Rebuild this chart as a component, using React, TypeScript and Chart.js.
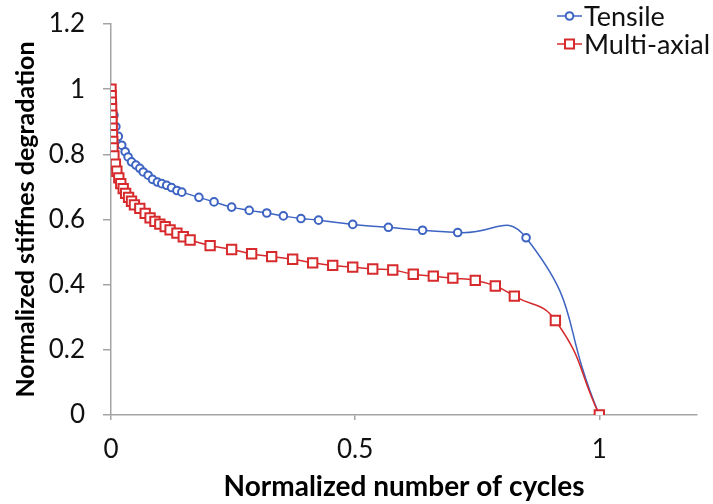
import React, { useEffect, useRef } from 'react';
import { Chart, registerables } from 'chart.js';

Chart.register(...registerables);

const seriesNames = ['Tensile', 'Multi-axial'];

const tensileX = [0, 0.003, 0.006, 0.01, 0.015, 0.022, 0.029, 0.035, 0.042, 0.051, 0.059, 0.066, 0.076, 0.085, 0.095, 0.104, 0.114, 0.124, 0.135, 0.145, 0.18, 0.211, 0.247, 0.283, 0.319, 0.353, 0.389, 0.425, 0.495, 0.568, 0.638, 0.71, 0.85, 1.0];
const tensileY = [1.0, 0.96, 0.92, 0.885, 0.855, 0.828, 0.808, 0.792, 0.777, 0.767, 0.757, 0.746, 0.736, 0.723, 0.715, 0.71, 0.705, 0.698, 0.689, 0.684, 0.668, 0.654, 0.638, 0.628, 0.62, 0.611, 0.603, 0.598, 0.585, 0.576, 0.567, 0.56, 0.544, 0.0];

const multiX = [0, 0.0004, 0.0008, 0.0012, 0.0016, 0.002, 0.0025, 0.003, 0.0035, 0.004, 0.006, 0.009, 0.012, 0.016, 0.02, 0.025, 0.03, 0.036, 0.042, 0.048, 0.059, 0.07, 0.08, 0.09, 0.1, 0.111, 0.121, 0.135, 0.148, 0.162, 0.203, 0.247, 0.288, 0.329, 0.372, 0.413, 0.454, 0.495, 0.536, 0.577, 0.619, 0.66, 0.7, 0.746, 0.787, 0.826, 0.91, 1.0];
const multiY = [1.0, 0.98, 0.96, 0.94, 0.92, 0.9, 0.88, 0.86, 0.84, 0.82, 0.795, 0.77, 0.748, 0.728, 0.71, 0.695, 0.68, 0.668, 0.656, 0.645, 0.634, 0.619, 0.605, 0.594, 0.586, 0.578, 0.568, 0.558, 0.547, 0.537, 0.52, 0.508, 0.495, 0.486, 0.478, 0.467, 0.459, 0.454, 0.448, 0.445, 0.432, 0.426, 0.42, 0.413, 0.396, 0.365, 0.29, 0.0];

const xTicks = [0, 0.5, 1];
const xTickLabels = ['0', '0.5', '1'];
const yTicks = [0, 0.2, 0.4, 0.6, 0.8, 1, 1.2];
const yTickLabels = ['0', '0.2', '0.4', '0.6', '0.8', '1', '1.2'];

const xTitle = 'Normalized number of cycles';
const yTitle = 'Normalized stiffnes degradation';

const FONT = 'Lato';
const BLUE = '#3d64c2';
const RED = '#d62a2c';
const AXIS = '#a4a4a4';

const legendPlugin = {
  id: 'customLegend',
  afterDraw(chart: any) {
    const ctx = chart.ctx;
    const items = [
      { name: seriesNames[0], color: BLUE, style: 'circle', y: 16 },
      { name: seriesNames[1], color: RED, style: 'rect', y: 44 },
    ];
    ctx.save();
    for (const it of items) {
      ctx.strokeStyle = it.color;
      ctx.lineWidth = 1.5;
      ctx.beginPath();
      ctx.moveTo(557, it.y);
      ctx.lineTo(582, it.y);
      ctx.stroke();
      ctx.fillStyle = '#ffffff';
      ctx.lineWidth = 2;
      ctx.beginPath();
      if (it.style === 'circle') {
        ctx.arc(569.5, it.y, 3.8, 0, Math.PI * 2);
      } else {
        ctx.rect(565, it.y - 4.5, 9, 9);
      }
      ctx.fill();
      ctx.stroke();
      ctx.fillStyle = '#111111';
      ctx.font = `27px ${FONT}`;
      ctx.textAlign = 'left';
      ctx.textBaseline = 'middle';
      ctx.fillText(it.name, 584, it.y + 1);
    }
    ctx.restore();
  },
};

export default function App() {
  const ref = useRef<HTMLCanvasElement | null>(null);

  useEffect(() => {
    if (!ref.current) return;
    const tensile = tensileX.map((x, i) => ({ x, y: tensileY[i] }));
    const multi = multiX.map((x, i) => ({ x, y: multiY[i] }));
    const chart = new Chart(ref.current, {
      type: 'line',
      data: {
        datasets: [
          {
            label: seriesNames[0],
            data: tensile,
            borderColor: BLUE,
            backgroundColor: '#ffffff',
            borderWidth: 1.5,
            pointStyle: 'circle',
            pointRadius: 3.8,
            pointBorderWidth: 2,
            pointBorderColor: BLUE,
            pointBackgroundColor: '#ffffff',
            tension: 0.55,
            order: 2,
          },
          {
            label: seriesNames[1],
            data: multi,
            borderColor: RED,
            backgroundColor: '#ffffff',
            borderWidth: 1.5,
            pointStyle: 'rect',
            pointRadius: 6.6,
            pointBorderWidth: 2,
            pointBorderColor: RED,
            pointBackgroundColor: '#ffffff',
            tension: 0.5,
            order: 1,
          },
        ],
      },
      options: {
        responsive: false,
        animation: false,
        events: [],
        layout: { padding: { left: 0, top: 24, right: 16, bottom: 0 } },
        plugins: { legend: { display: false }, tooltip: { enabled: false } },
        scales: {
          x: {
            type: 'linear',
            min: 0,
            max: 1.2,
            afterBuildTicks: (s: any) => { s.ticks = xTicks.map((v) => ({ value: v })); },
            afterFit: (s: any) => { s.height = 89; s.paddingLeft = 0; s.paddingRight = 0; },
            border: { display: true, color: AXIS, width: 1.5 },
            grid: { display: true, drawOnChartArea: false, drawTicks: true, tickLength: 5, color: AXIS, lineWidth: 1.5 },
            ticks: {
              padding: 14,
              color: '#111111',
              font: { family: FONT, size: 26 },
              maxRotation: 0,
              callback: (v: any) => { const i = xTicks.indexOf(Number(v)); return i >= 0 ? xTickLabels[i] : ''; },
            },
            title: {
              display: true,
              text: xTitle,
              color: '#000000',
              font: { family: FONT, size: 28, weight: 'bold' },
              padding: { top: 0, bottom: 0 },
            },
          },
          y: {
            type: 'linear',
            min: 0,
            max: 1.2,
            afterBuildTicks: (s: any) => { s.ticks = yTicks.map((v) => ({ value: v })); },
            afterFit: (s: any) => { s.width = 111; s.paddingTop = 0; s.paddingBottom = 0; },
            border: { display: true, color: AXIS, width: 1.5 },
            grid: { display: true, drawOnChartArea: false, drawTicks: true, tickLength: 8, color: AXIS, lineWidth: 1.5 },
            ticks: {
              padding: 18,
              color: '#111111',
              font: { family: FONT, size: 26 },
              callback: (v: any) => {
                const i = yTicks.findIndex((t) => Math.abs(t - Number(v)) < 1e-9);
                return i >= 0 ? yTickLabels[i] : '';
              },
            },
            title: {
              display: true,
              text: yTitle,
              color: '#000000',
              font: { family: FONT, size: 25, weight: 'bold' },
              padding: { top: 11, bottom: 0 },
            },
          },
        },
      },
      plugins: [legendPlugin],
    });
    return () => chart.destroy();
  }, []);

  return (
    <div style={{ position: 'fixed', left: 0, top: 0, width: 713, height: 504, background: '#ffffff' }}>
      <canvas ref={ref} width={713} height={504} style={{ width: 713, height: 504, display: 'block' }} />
    </div>
  );
}
